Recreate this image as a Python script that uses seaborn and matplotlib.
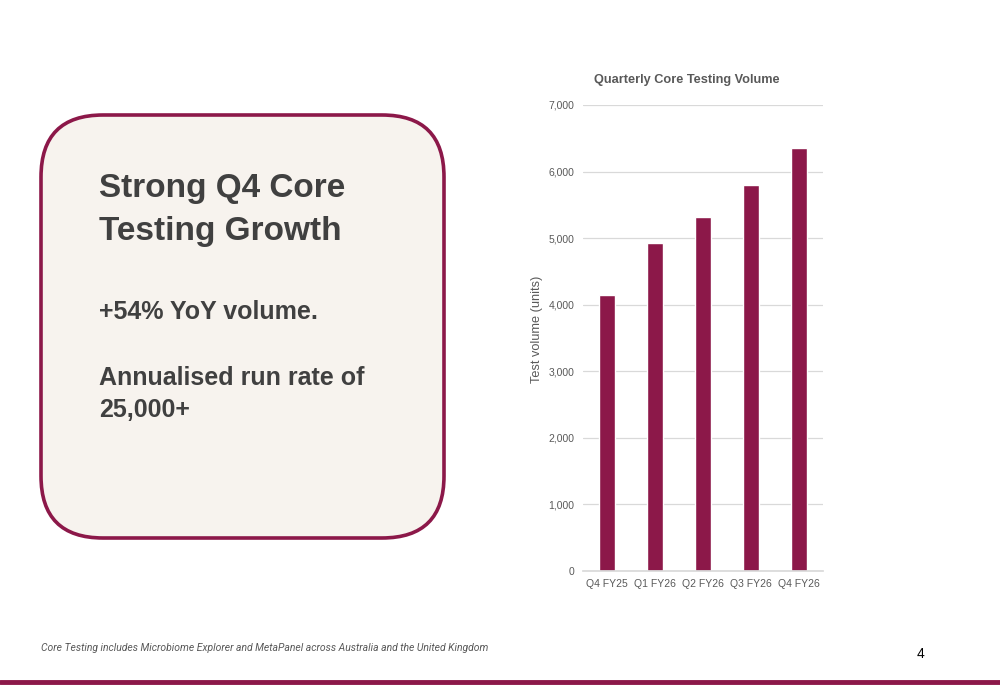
import pandas as pd
import matplotlib.pyplot as plt
import seaborn as sns
from matplotlib.patches import FancyBboxPatch
from matplotlib.ticker import FuncFormatter

# Data
quarters = ["Q4 FY25", "Q1 FY26", "Q2 FY26", "Q3 FY26", "Q4 FY26"]
volume = [4140, 4920, 5320, 5800, 6360]
y_ticks = [0, 1000, 2000, 3000, 4000, 5000, 6000, 7000]

df = pd.DataFrame({"quarter": quarters, "volume": volume})

BERRY = "#8C1849"
GREY = "#595959"
DARK = "#404040"

sns.set_theme(style="white")
plt.rcParams["font.family"] = ["Liberation Sans", "DejaVu Sans"]

fig = plt.figure(figsize=(10, 6.85), dpi=100)
fig.patch.set_facecolor("white")

# -------------------------------
# Left call-out box
# -------------------------------
box = FancyBboxPatch((0.041, 1 - 538 / 685), 0.403, 423 / 685,
                     boxstyle="round,pad=0,rounding_size=0.062",
                     transform=fig.transFigure, facecolor="#F7F3EE",
                     edgecolor=BERRY, linewidth=2.6,
                     mutation_aspect=1000 / 685)
fig.patches.append(box)

# one text per line so baselines sit where they do on the slide
lines = [("Strong Q4 Core", 197, 24), ("Testing Growth", 240, 24),
         ("+54% YoY volume.", 319, 18), ("Annualised run rate of", 385, 18),
         ("25,000+", 417, 18)]
for txt, base, size in lines:
    fig.text(0.099, 1 - base / 685, txt, fontsize=size, fontweight="bold",
             color=DARK, va="baseline")

# -------------------------------
# Bar chart
# -------------------------------
ax = fig.add_axes([0.583, 1 - 571 / 685, 0.24, 466 / 685])
sns.barplot(data=df, x="quarter", y="volume", color=BERRY, width=0.33,
            saturation=1, ax=ax)
ax.set_ylim(0, 7000)
ax.set_xlim(-0.5, 4.5)
ax.set_yticks(y_ticks)
ax.yaxis.set_major_formatter(FuncFormatter(lambda v, p: f"{int(v):,}"))
ax.grid(axis="y", color="#D9D9D9", linewidth=0.9)
ax.set_axisbelow(True)
for s in ["top", "right", "left"]:
    ax.spines[s].set_visible(False)
ax.spines["bottom"].set_color("#D9D9D9")
ax.tick_params(axis="both", length=0, labelsize=7.5, colors=GREY, pad=6)
ax.set_xlabel("")
ax.set_ylabel("Test volume (units)", fontsize=9.2, color=GREY)
ax.yaxis.set_label_coords(-0.167, 0.519)
ax.set_facecolor("white")
fig.text(0.687, 1 - 80 / 685, "Quarterly Core Testing Volume", fontsize=9.2,
         fontweight="bold", color=GREY, ha="center", va="center")

# -------------------------------
# Footer
# -------------------------------
fig.text(0.041, 1 - 651 / 685,
         "Core Testing includes Microbiome Explorer and MetaPanel across Australia and the United Kingdom",
         fontsize=7.5, style="italic", color=GREY, family=["Roboto", "DejaVu Sans"])
fig.text(0.917, 1 - 658 / 685, "4", fontsize=10, color="black")
fig.add_artist(plt.Line2D([0, 1], [1 - 682 / 685] * 2, transform=fig.transFigure,
                          color=BERRY, linewidth=3.5))

plt.savefig("out.png", dpi=100)
